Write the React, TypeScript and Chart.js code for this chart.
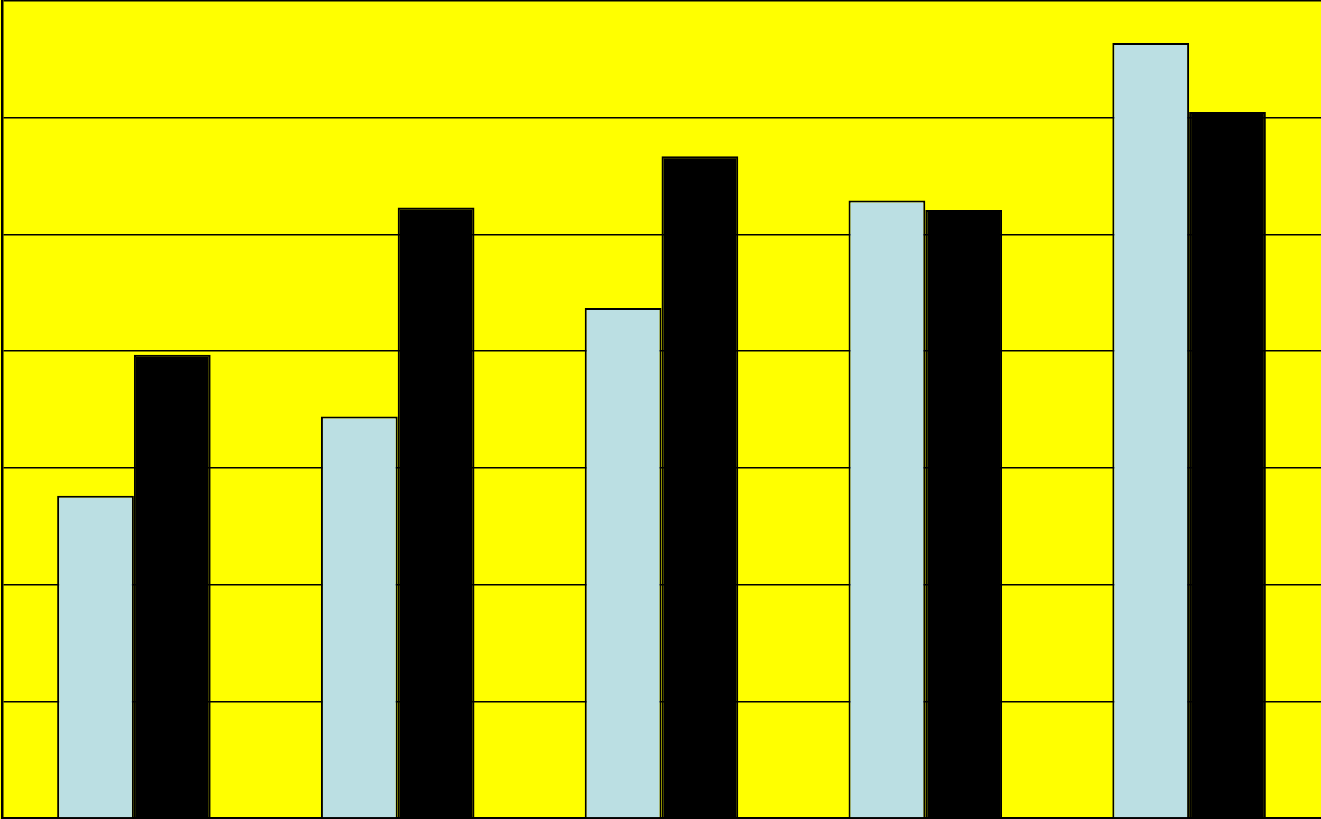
import React, { useEffect, useRef } from "react";
import { Chart, registerables } from "chart.js";

Chart.register(...registerables);

const categories = ["1", "2", "3", "4", "5"];
const seriesA = [27.6, 34.4, 43.7, 52.9, 66.4];
const seriesB = [39.7, 52.3, 56.7, 52.1, 60.5];
const yMax = 70;
const yStep = 10;

const bgPlugin = {
  id: "bgFill",
  beforeDraw(chart: any) {
    const { ctx, width, height } = chart;
    ctx.save();
    ctx.fillStyle = "#FFFF00";
    ctx.fillRect(0, 0, width, height);
    ctx.restore();
  },
};

export default function App() {
  const ref = useRef<HTMLCanvasElement | null>(null);
  useEffect(() => {
    document.body.style.margin = "0";
    const chart = new Chart(ref.current as HTMLCanvasElement, {
      type: "bar",
      data: {
        labels: categories,
        datasets: [
          {
            label: "A",
            data: seriesA,
            backgroundColor: "#BBDFE3",
            borderColor: "#000000",
            borderWidth: 2,
            barPercentage: 1,
            categoryPercentage: 0.582,
          },
          {
            label: "B",
            data: seriesB,
            backgroundColor: "#000000",
            borderColor: "#000000",
            borderWidth: 2,
            barPercentage: 1,
            categoryPercentage: 0.582,
          },
        ],
      },
      options: {
        animation: false,
        responsive: true,
        maintainAspectRatio: false,
        layout: { padding: { left: 2, top: 1, right: 0, bottom: 1 } },
        plugins: { legend: { display: false }, tooltip: { enabled: false } },
        scales: {
          x: {
            ticks: { display: false },
            grid: { display: false, drawTicks: false },
            border: { display: true, color: "#000000", width: 2 },
          },
          y: {
            min: 0,
            max: yMax,
            ticks: { display: false, stepSize: yStep },
            grid: { color: "#000000", lineWidth: 1.5, drawTicks: false },
            border: { display: true, color: "#000000", width: 2.5 },
          },
        },
      },
      plugins: [bgPlugin],
    });
    return () => chart.destroy();
  }, []);
  return (
    <div style={{ position: "absolute", left: 0, top: 0, width: 1321, height: 819 }}>
      <canvas ref={ref} />
    </div>
  );
}
